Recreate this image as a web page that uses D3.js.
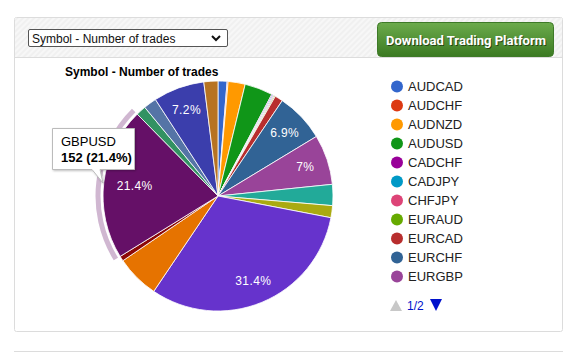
<!DOCTYPE html>
<html><head><meta charset="utf-8">
<script src="https://cdn.jsdelivr.net/npm/d3@7"></script>
<style>html,body{margin:0;padding:0;background:#fff;}svg{display:block;}</style>
</head><body>
<script>
const symbols = ["AUDCAD","AUDCHF","AUDNZD","AUDUSD","CADCHF","CADJPY","CHFJPY","EURAUD","EURCAD","EURCHF","EURGBP",
  "EURJPY","EURNZD","EURUSD","GBPCHF","GBPJPY","GBPUSD","NZDUSD","USDCAD","USDCHF","USDJPY"];
const trades = [9,1,17,28,1,1,1,1,8,49,50,21,12,223,43,5,152,10,13,51,14];
const colors = ["#3366cc","#dc3912","#ff9900","#109618","#990099","#0099c6","#dd4477","#66aa00","#b82e2e","#316395","#994499",
  "#22aa99","#aaaa11","#6633cc","#e67300","#8b0707","#651067","#329262","#5574a6","#3b3eac","#b77322"];
const legendPage = "1/2";
const chartTitle = "Symbol - Number of trades";
const highlighted = "GBPUSD";

const W = 571, H = 353;
const svg = d3.select("body").append("svg").attr("width", W).attr("height", H);
const defs = svg.append("defs");
const pat = defs.append("pattern").attr("id","stripes").attr("width",4).attr("height",4)
  .attr("patternUnits","userSpaceOnUse").attr("patternTransform","rotate(45)");
pat.append("rect").attr("width",4).attr("height",4).attr("fill","#f7f7f7");
pat.append("rect").attr("width",2).attr("height",4).attr("fill","#f0f0f0");
const grad = defs.append("linearGradient").attr("id","btn").attr("x1",0).attr("y1",0).attr("x2",0).attr("y2",1);
grad.append("stop").attr("offset","0%").attr("stop-color","#6cab4c");
grad.append("stop").attr("offset","100%").attr("stop-color","#3b7a22");
const sh = defs.append("filter").attr("id","shadow").attr("x","-20%").attr("y","-20%").attr("width","150%").attr("height","150%");
sh.append("feDropShadow").attr("dx",1).attr("dy",1).attr("stdDeviation",1.2).attr("flood-color","#000").attr("flood-opacity",0.25);

// panel
svg.append("rect").attr("x",14.5).attr("y",17.5).attr("width",548).attr("height",314)
  .attr("fill","#fff").attr("stroke","#dcdcdc").attr("rx",2);
svg.append("rect").attr("x",15).attr("y",18).attr("width",547).attr("height",39).attr("fill","url(#stripes)");
svg.append("line").attr("x1",15).attr("x2",562).attr("y1",57.5).attr("y2",57.5).attr("stroke","#dcdcdc");
svg.append("line").attr("x1",14).attr("x2",563).attr("y1",351.5).attr("y2",351.5).attr("stroke","#dcdcdc");

// select
svg.append("rect").attr("x",28.5).attr("y",29.5).attr("width",199).attr("height",17)
  .attr("fill","#fff").attr("stroke","#555").attr("rx",1.5);
svg.append("text").attr("x",32).attr("y",42.5).attr("font-family","Arial, 'Liberation Sans', sans-serif")
  .attr("font-size",12).attr("fill","#111").text(chartTitle);
svg.append("path").attr("d","M212,36 L216,40 L220,36").attr("fill","none").attr("stroke","#111").attr("stroke-width",2);

// button
svg.append("rect").attr("x",377.5).attr("y",22.5).attr("width",176).attr("height",34).attr("rx",4)
  .attr("fill","url(#btn)").attr("stroke","#3e7a28");
svg.append("text").attr("x",466).attr("y",44.5).attr("text-anchor","middle")
  .attr("font-family","Roboto, Arial, sans-serif").attr("font-weight","bold").attr("font-size",13)
  .attr("fill","#000").attr("opacity",0.5).attr("textLength",160).attr("lengthAdjust","spacingAndGlyphs")
  .attr("transform","translate(1,1)").text("Download Trading Platform");
svg.append("text").attr("x",466).attr("y",44.5).attr("text-anchor","middle")
  .attr("font-family","Roboto, Arial, sans-serif").attr("font-weight","bold").attr("font-size",13)
  .attr("fill","#fff").attr("textLength",160).attr("lengthAdjust","spacingAndGlyphs").text("Download Trading Platform");

// chart title
svg.append("text").attr("x",65).attr("y",76).attr("font-family","Arial, 'Liberation Sans', sans-serif")
  .attr("font-weight","bold").attr("font-size",12).attr("fill","#000").text(chartTitle);

// pie
const cx = 218, cy = 196, R = 115;
const data = symbols.map((s,i)=>({name:s, value:trades[i], color:colors[i]}));
const total = d3.sum(trades);
const pie = d3.pie().sort(null).value(d=>d.value).startAngle(0).endAngle(2*Math.PI);
const arcs = pie(data);
const arc = d3.arc().innerRadius(0).outerRadius(R);
const g = svg.append("g").attr("transform",`translate(${cx},${cy})`);

// highlight ring
const hl = arcs.find(a=>a.data.name===highlighted);
g.append("path").attr("d", d3.arc().innerRadius(R+2.5).outerRadius(R+7.5)(hl))
  .attr("fill", hl.data.color).attr("opacity",0.3);

g.selectAll("path.slice").data(arcs).join("path").attr("class","slice")
  .attr("d", arc).attr("fill", d=>d.data.color).attr("stroke","#fff").attr("stroke-width",0.8);

const fmt = v => { const p = Math.round(v/total*1000)/10; return p + "%"; };
const labArc = f => d3.arc().innerRadius(R*f).outerRadius(R*f);
g.selectAll("text.lab").data(arcs.filter(a=>a.data.value/total>0.065)).join("text").attr("class","lab")
  .attr("transform", d=>`translate(${labArc(d.data.value/total>0.2 && d.data.value/total<0.3 ? 0.73 : 0.8).centroid(d)})`)
  .attr("text-anchor","middle").attr("dy","0.36em")
  .attr("font-family","Arial, 'Liberation Sans', sans-serif").attr("font-size",12).attr("fill","#fff")
  .attr("letter-spacing",0.4)
  .text(d=>fmt(d.data.value));

// legend (page 1)
const lg = svg.append("g");
const page1 = data.slice(0,11);
const ly = d3.scalePoint().domain(page1.map(d=>d.name)).range([86.5, 276.5]);
page1.forEach(d=>{
  lg.append("circle").attr("cx",397).attr("cy",ly(d.name)).attr("r",6).attr("fill",d.color);
  lg.append("text").attr("x",408).attr("y",ly(d.name)+4.5).attr("font-family","Arial, 'Liberation Sans', sans-serif")
    .attr("font-size",13).attr("fill","#222").text(d.name);
});
lg.append("path").attr("d","M390,311 L396,300 L402,311 Z").attr("fill","#c8c8c8");
lg.append("text").attr("x",407).attr("y",310).attr("font-family","Arial, 'Liberation Sans', sans-serif")
  .attr("font-size",12).attr("fill","#0011cc").text(legendPage);
lg.append("path").attr("d","M430,299 L442,299 L436,311 Z").attr("fill","#0011cc");

// tooltip
const tt = svg.append("g");
tt.append("path").attr("d","M52.5,128.5 H134.5 V169.5 H100 L103,183 L92,169.5 H52.5 Z")
  .attr("fill","#fff").attr("stroke","#bbb").attr("filter","url(#shadow)");
tt.append("text").attr("x",61).attr("y",146).attr("font-family","Arial, 'Liberation Sans', sans-serif")
  .attr("font-size",13).attr("fill","#000").text(hl.data.name);
tt.append("text").attr("x",61).attr("y",162).attr("font-family","Arial, 'Liberation Sans', sans-serif")
  .attr("font-size",13).attr("font-weight","bold").attr("fill","#000")
  .text(`${hl.data.value} (${fmt(hl.data.value)})`);
</script>
</body></html>
